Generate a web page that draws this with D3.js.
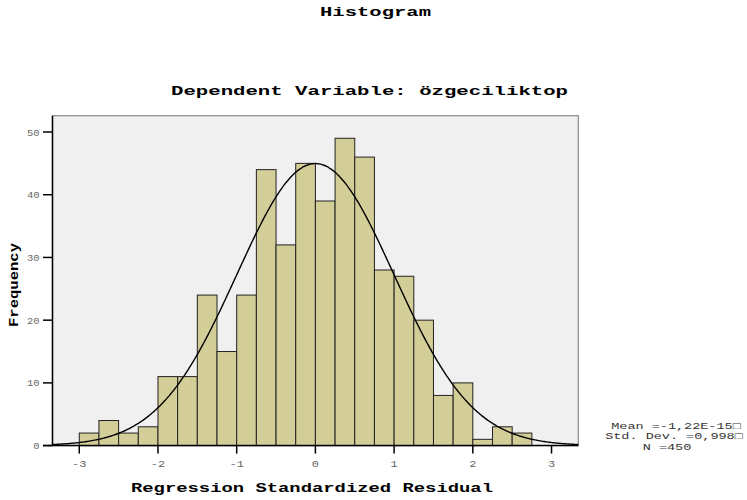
<!DOCTYPE html>
<html>
<head>
<meta charset="utf-8">
<script src="https://cdn.jsdelivr.net/npm/d3@7"></script>
<style>
  html, body { margin: 0; padding: 0; background: #ffffff; }
  svg { display: block; }
</style>
</head>
<body>
<svg id="chart" width="747" height="500"></svg>
<script>
// ---- data ----
const binStarts = [-3.0, -2.75, -2.5, -2.25, -2.0, -1.75, -1.5, -1.25, -1.0, -0.75, -0.5, -0.25,
                   0.0, 0.25, 0.5, 0.75, 1.0, 1.25, 1.5, 1.75, 2.0, 2.25, 2.5];
const counts    = [2, 4, 2, 3, 11, 11, 24, 15, 24, 44, 32, 45,
                   39, 49, 46, 28, 27, 20, 8, 10, 1, 3, 2];
const binWidth = 0.25;
const xTicks = [-3, -2, -1, 0, 1, 2, 3];
const yTicks = [0, 10, 20, 30, 40, 50];
const stats = { mean: -1.22e-15, sd: 0.998, n: 450 };
const legendLines = ["Mean =-1,22E-15\u25A1", "Std. Dev. =0,998\u25A1", "N =450"];
const titleText = "Histogram";
const subtitleText = "Dependent Variable: özgeciliktop";
const xTitle = "Regression Standardized Residual";
const yTitle = "Frequency";

// ---- layout ----
const svg = d3.select("#chart");
const plot = { left: 52.5, right: 578.3, top: 115.7, bottom: 445.6 };
const x = d3.scaleLinear().domain([-3.34, 3.34]).range([plot.left, plot.right]);
const y = d3.scaleLinear().domain([0, 52.6]).range([plot.bottom, plot.top]);

const FONT = "'Liberation Mono', 'Courier New', monospace";

function txt(g, s, opts) {
  const t = g.append("text")
    .attr("x", opts.x).attr("y", opts.y)
    .attr("font-family", FONT)
    .attr("font-size", opts.size)
    .attr("font-weight", opts.bold ? "bold" : "normal")
    .attr("fill", opts.fill || "#000")
    .attr("text-anchor", opts.anchor || "middle")
    .text(s);
  if (opts.len) t.attr("textLength", opts.len).attr("lengthAdjust", "spacingAndGlyphs");
  if (opts.rotate) t.attr("transform", `rotate(${opts.rotate},${opts.x},${opts.y})`);
  return t;
}

// plot background
svg.append("rect")
  .attr("x", plot.left).attr("y", plot.top)
  .attr("width", plot.right - plot.left).attr("height", plot.bottom - plot.top)
  .attr("fill", "#f0f0f0").attr("stroke", "#8a8a8a").attr("stroke-width", 1.2);

// bars
svg.append("g").selectAll("rect")
  .data(binStarts.map((b, i) => ({ b, c: counts[i] })))
  .join("rect")
  .attr("x", d => x(d.b))
  .attr("y", d => y(d.c))
  .attr("width", d => x(d.b + binWidth) - x(d.b))
  .attr("height", d => y(0) - y(d.c))
  .attr("fill", "#d3ce98")
  .attr("stroke", "#222")
  .attr("stroke-width", 1);

// normal curve
const scaleFactor = stats.n * binWidth / (stats.sd * Math.sqrt(2 * Math.PI));
const curveXs = d3.range(0, 401).map(i => -3.34 + i * (6.68 / 400));
const line = d3.line()
  .x(v => x(v))
  .y(v => y(scaleFactor * Math.exp(-0.5 * Math.pow((v - stats.mean) / stats.sd, 2))))
  .curve(d3.curveBasis);
svg.append("path").datum(curveXs)
  .attr("d", line)
  .attr("fill", "none").attr("stroke", "#000").attr("stroke-width", 1.4);

// axes lines
svg.append("line").attr("x1", plot.left).attr("x2", plot.left)
  .attr("y1", plot.top).attr("y2", plot.bottom).attr("stroke", "#000").attr("stroke-width", 1.5);
svg.append("line").attr("x1", plot.left - 9.5).attr("x2", plot.right)
  .attr("y1", plot.bottom).attr("y2", plot.bottom).attr("stroke", "#000").attr("stroke-width", 1.5);

// y ticks
const yg = svg.append("g");
yTicks.forEach(v => {
  yg.append("line").attr("x1", plot.left - 9.5).attr("x2", plot.left)
    .attr("y1", y(v)).attr("y2", y(v)).attr("stroke", "#000").attr("stroke-width", 1.5);
  const s = String(v);
  txt(yg, s, { x: 39.5, y: y(v) + 3.5, size: 9, fill: "#666", anchor: "end", len: s.length * 6.3 });
});

// x ticks
const xg = svg.append("g");
xTicks.forEach(v => {
  xg.append("line").attr("x1", x(v)).attr("x2", x(v))
    .attr("y1", plot.bottom).attr("y2", plot.bottom + 8).attr("stroke", "#000").attr("stroke-width", 1.5);
  const s = v < 0 ? "-" + Math.abs(v) : String(v);
  txt(xg, s, { x: x(v), y: 467, size: 9, fill: "#666", len: s.length * 7.2 });
});

// titles
txt(svg, titleText, { x: 375.5, y: 16, size: 13, bold: true, len: 111 });
txt(svg, subtitleText, { x: 369.5, y: 95, size: 13, bold: true, len: 397 });
txt(svg, xTitle, { x: 312, y: 492, size: 12.5, bold: true, len: 362 });
txt(svg, yTitle, { x: 18, y: 285, size: 12, bold: true, len: 84, rotate: -90 });

// legend
const lg = svg.append("g");
const legendPos = [{ x: 676, y: 429 }, { x: 674, y: 439 }, { x: 667, y: 450 }];
legendLines.forEach((s, i) => {
  txt(lg, s, { x: legendPos[i].x, y: legendPos[i].y, size: 9, fill: "#333", len: s.length * 8.1 });
});
</script>
</body>
</html>
